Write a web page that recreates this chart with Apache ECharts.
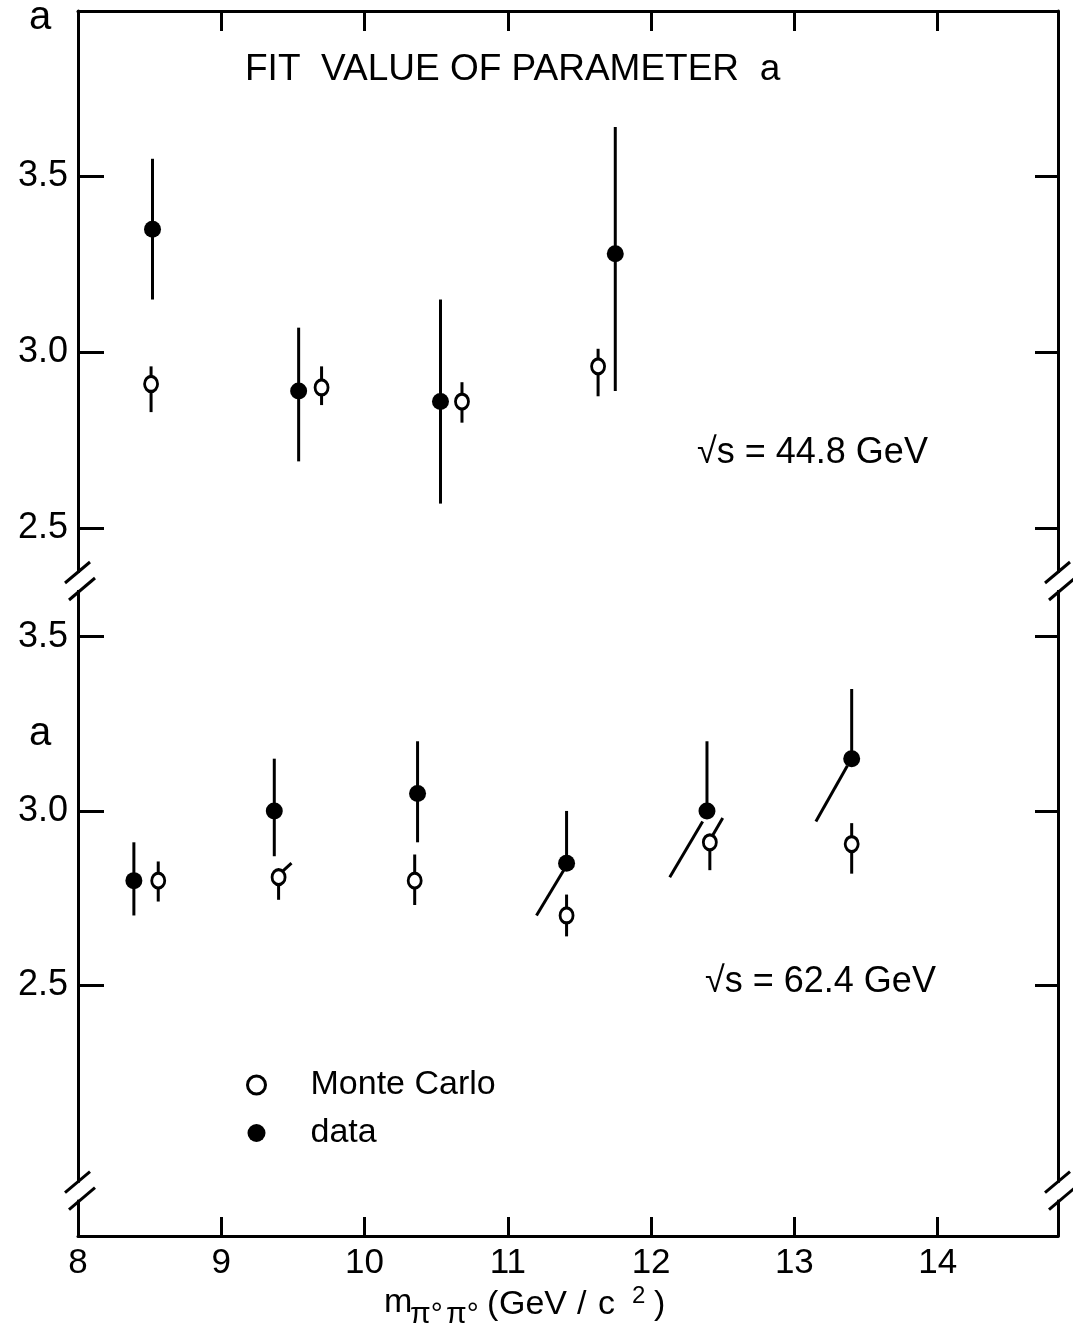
<!DOCTYPE html>
<html><head><meta charset="utf-8">
<script src="https://cdn.jsdelivr.net/npm/echarts/dist/echarts.min.js"></script>
<style>html,body{margin:0;padding:0;background:#fff}#c{width:1073px;height:1337px}</style>
</head><body><div id="c"></div>
<script>
// ---- axis ticks ----
const xTicks = [8, 9, 10, 11, 12, 13, 14];
const yTicks = [2.5, 3.0, 3.5];

// ---- sqrt(s) = 44.8 GeV (upper panel) ----
const data448X  = [8.52, 9.54, 10.53, 11.75];
const data448Y  = [3.35, 2.89, 2.86, 3.28];
const data448Lo = [3.15, 2.69, 2.57, 2.89];
const data448Hi = [3.55, 3.07, 3.15, 3.64];
const mc448X  = [8.51, 9.70, 10.68, 11.63];
const mc448Y  = [2.91, 2.90, 2.86, 2.96];
const mc448Lo = [2.83, 2.85, 2.80, 2.875];
const mc448Hi = [2.96, 2.96, 2.915, 3.01];

// ---- sqrt(s) = 62.4 GeV (lower panel) ----
const data624X  = [8.39, 9.37, 10.37, 11.41, 12.39, 13.40];
const data624Y  = [2.80, 3.00, 3.05, 2.85, 3.00, 3.15];
const data624Lo = [2.70, 2.87, 2.91, null, null, null];
const data624Hi = [2.91, 3.15, 3.20, 3.00, 3.20, 3.35];
const mc624X  = [8.56, 9.40, 10.35, 11.41, 12.41, 13.40];
const mc624Y  = [2.80, 2.81, 2.80, 2.70, 2.91, 2.905];
const mc624Lo = [2.74, 2.745, 2.73, 2.64, 2.83, 2.82];
const mc624Hi = [2.855, null, 2.875, 2.76, null, 2.965];
// slanted bar segments [x1, y1, x2, y2]
const slant624 = [
  [11.39, 2.83, 11.20, 2.70],
  [12.36, 2.97, 12.13, 2.81],
  [13.37, 3.13, 13.15, 2.97],
  [9.41, 2.82, 9.49, 2.85],
  [12.43, 2.93, 12.50, 2.98]
];

const FONT = '"Liberation Sans", Arial, sans-serif';
const BLACK = '#000';

function pts(xs, ys) { return xs.map((x, i) => [x, ys[i]]); }
function errs(xs, ys, lo, hi) {
  return xs.map((x, i) => [x, ys[i], lo[i] == null ? ys[i] : lo[i], hi[i] == null ? ys[i] : hi[i]]);
}
function errRender(params, api) {
  const x = api.value(0);
  const p1 = api.coord([x, api.value(2)]);
  const p2 = api.coord([x, api.value(3)]);
  return { type: 'line', shape: { x1: p1[0], y1: p1[1], x2: p2[0], y2: p2[1] },
           style: { stroke: BLACK, lineWidth: 3 } };
}
function segRender(params, api) {
  const p1 = api.coord([api.value(0), api.value(1)]);
  const p2 = api.coord([api.value(2), api.value(3)]);
  return { type: 'line', shape: { x1: p1[0], y1: p1[1], x2: p2[0], y2: p2[1] },
           style: { stroke: BLACK, lineWidth: 3 } };
}

const axisLine = { show: true, onZero: false, lineStyle: { color: BLACK, width: 3 } };
function xAxisCfg(grid, pos, showLabel) {
  return {
    type: 'value', gridIndex: grid, position: pos, min: 8, max: 14.84,
    axisLine: axisLine,
    axisTick: { show: true, inside: true, length: pos === 'top' ? 20 : 19, customValues: xTicks,
                lineStyle: { color: BLACK, width: 3 } },
    axisLabel: { show: showLabel, customValues: xTicks, fontSize: 35, fontFamily: FONT, color: BLACK, margin: 10 },
    splitLine: { show: false }
  };
}
function yAxisCfg(grid, pos, min, max, showLabel) {
  return {
    type: 'value', gridIndex: grid, position: pos, min: min, max: max,
    axisLine: axisLine,
    axisTick: { show: true, inside: true, length: pos === 'left' ? 26 : 23, customValues: yTicks,
                lineStyle: { color: BLACK, width: 3 } },
    axisLabel: { show: showLabel, customValues: yTicks, fontSize: 36, fontFamily: FONT, color: BLACK,
                 margin: 10, formatter: v => v.toFixed(1) },
    splitLine: { show: false }
  };
}

const filledStyle = { color: BLACK, opacity: 1 };
const openStyle = { color: '#fff', borderColor: BLACK, borderWidth: 3, opacity: 1 };

const chart = echarts.init(document.getElementById('c'), null, { renderer: 'canvas' });
chart.setOption({
  animation: false,
  backgroundColor: '#fff',
  grid: [
    { left: 78, right: 15, top: 11, height: 570 },
    { left: 78, right: 15, top: 581, height: 655 }
  ],
  xAxis: [xAxisCfg(0, 'top', false), xAxisCfg(1, 'bottom', true)],
  yAxis: [
    yAxisCfg(0, 'left', 2.35, 3.97, true), yAxisCfg(0, 'right', 2.35, 3.97, false),
    yAxisCfg(1, 'left', 1.78, 3.66, true), yAxisCfg(1, 'right', 1.78, 3.66, false)
  ],
  legend: {
    orient: 'vertical', left: 241, top: 1063, itemWidth: 18, itemHeight: 18, itemGap: 14,
    selectedMode: false,
    data: [
      { name: 'Monte Carlo', itemStyle: { color: '#fff', borderColor: BLACK, borderWidth: 3 } },
      { name: 'data', itemStyle: { color: BLACK } }
    ],
    textStyle: { fontSize: 34, fontFamily: FONT, color: BLACK, lineHeight: 34, padding: [0, 0, 0, 40] }
  },
  series: [
    { type: 'custom', xAxisIndex: 0, yAxisIndex: 0, renderItem: errRender, encode: { x: 0, y: [2, 3] },
      data: errs(data448X, data448Y, data448Lo, data448Hi), z: 2 },
    { type: 'custom', xAxisIndex: 0, yAxisIndex: 0, renderItem: errRender, encode: { x: 0, y: [2, 3] },
      data: errs(mc448X, mc448Y, mc448Lo, mc448Hi), z: 2 },
    { type: 'custom', xAxisIndex: 1, yAxisIndex: 2, renderItem: errRender, encode: { x: 0, y: [2, 3] },
      data: errs(data624X, data624Y, data624Lo, data624Hi), z: 2 },
    { type: 'custom', xAxisIndex: 1, yAxisIndex: 2, renderItem: errRender, encode: { x: 0, y: [2, 3] },
      data: errs(mc624X, mc624Y, mc624Lo, mc624Hi), z: 2 },
    { type: 'custom', xAxisIndex: 1, yAxisIndex: 2, renderItem: segRender, encode: { x: [0, 2], y: [1, 3] },
      data: slant624, z: 2 },
    { name: 'data', type: 'scatter', xAxisIndex: 0, yAxisIndex: 0, symbol: 'circle', symbolSize: 17,
      itemStyle: filledStyle, emphasis: { disabled: true }, data: pts(data448X, data448Y), z: 5 },
    { name: 'Monte Carlo', type: 'scatter', xAxisIndex: 0, yAxisIndex: 0, symbol: 'circle', symbolSize: [13, 15],
      itemStyle: openStyle, emphasis: { disabled: true }, data: pts(mc448X, mc448Y), z: 5 },
    { name: 'data', type: 'scatter', xAxisIndex: 1, yAxisIndex: 2, symbol: 'circle', symbolSize: 17,
      itemStyle: filledStyle, emphasis: { disabled: true }, data: pts(data624X, data624Y), z: 5 },
    { name: 'Monte Carlo', type: 'scatter', xAxisIndex: 1, yAxisIndex: 2, symbol: 'circle', symbolSize: [13, 15],
      itemStyle: openStyle, emphasis: { disabled: true }, data: pts(mc624X, mc624Y), z: 5 }
  ]
});

// ---- decorations: axis breaks and text ----
const g = [];
function brk(ax, yc) {
  g.push({ type: 'rect', shape: { x: ax - 6, y: yc - 8, width: 12, height: 17 }, style: { fill: '#fff' }, z: 100 });
  g.push({ type: 'line', shape: { x1: ax - 13, y1: yc + 2, x2: ax + 12, y2: yc - 19 },
           style: { stroke: BLACK, lineWidth: 3 }, z: 101 });
  g.push({ type: 'line', shape: { x1: ax - 9, y1: yc + 19, x2: ax + 17, y2: yc - 3 },
           style: { stroke: BLACK, lineWidth: 3 }, z: 101 });
}
const leftX = chart.convertToPixel({ xAxisIndex: 0, yAxisIndex: 0 }, [8, 3])[0];
const rightX = chart.convertToPixel({ xAxisIndex: 0, yAxisIndex: 0 }, [14.84, 3])[0];
const y1 = chart.convertToPixel({ xAxisIndex: 0, yAxisIndex: 0 }, [8, 2.35])[1];
const y2 = chart.convertToPixel({ xAxisIndex: 1, yAxisIndex: 2 }, [8, 1.91])[1];
brk(leftX, y1); brk(rightX, y1); brk(leftX, y2); brk(rightX, y2);

function txt(x, y, s, size, align) {
  g.push({ type: 'text', x: x, y: y, z: 102,
           style: { text: s, fontSize: size, fontFamily: FONT, fill: BLACK,
                    textAlign: align || 'left', textVerticalAlign: 'middle' } });
}
txt(40, 18, 'a', 40, 'center');
txt(40, 734, 'a', 40, 'center');
txt(245, 70, 'FIT  VALUE OF PARAMETER  a', 37);
txt(697, 453, '√s = 44.8 GeV', 36);
txt(705, 982, '√s = 62.4 GeV', 36);
txt(384, 1303, 'm', 34);
txt(410, 1315, 'π°', 30);
txt(446, 1315, 'π°', 30);
txt(487, 1305, '(', 34);
txt(499, 1305, 'GeV', 34);
txt(577, 1305, '/', 34);
txt(598, 1305, 'c', 34);
txt(632, 1296, '2', 24);
txt(654, 1305, ')', 34);

chart.setOption({ graphic: g });
</script></body></html>
